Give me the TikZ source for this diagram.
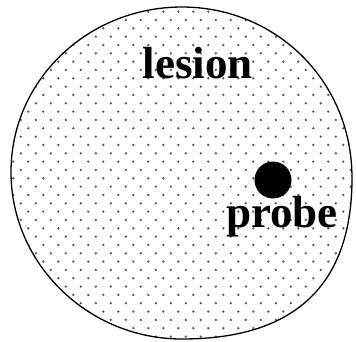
\documentclass[tikz,border=0pt]{standalone}
\usepackage{fontspec}
\setmainfont{Liberation Serif}

\begin{document}
\begin{tikzpicture}[x=1pt, y=-1pt,
    word/.style = {font=\fontsize{45}{45}\selectfont\bfseries, inner sep=0pt, anchor=base},
    tipdot/.style = {circle, fill=black, minimum size=37pt, inner sep=0pt},
    grain/.style = {fill=black!65}
]
\useasboundingbox (0,0) rectangle (356,341);

% outline of the lesion
\path[save path=\lesionpath] (182,7)
    .. controls (275,7) and (352,80) .. (352,178)
    .. controls (352,285) and (295,339) .. (182,339)
    .. controls (88,339) and (11,264) .. (11,172)
    .. controls (11,80) and (88,7) .. cycle;

% dotted fill
\begin{scope}
  \clip[use path=\lesionpath];
  \foreach \r in {0,...,40} {
    \pgfmathsetmacro\ry{3.35+8.33*\r}
    \pgfmathsetmacro\rx{mod(\r,2)==1 ? -1.7 : 5.8}
    \foreach \n in {0,...,24}
      \fill[grain] (\rx+15*\n,\ry) circle (1.3);
  }
\end{scope}
\draw[line width=1.3pt, use path=\lesionpath];

\node (lesion) [word] at (198,78) {lesion};
\node (probe) [tipdot] at (273,180) {};
\node (probetext) [word] at (282,227) {probe};

\end{tikzpicture}
\end{document}
